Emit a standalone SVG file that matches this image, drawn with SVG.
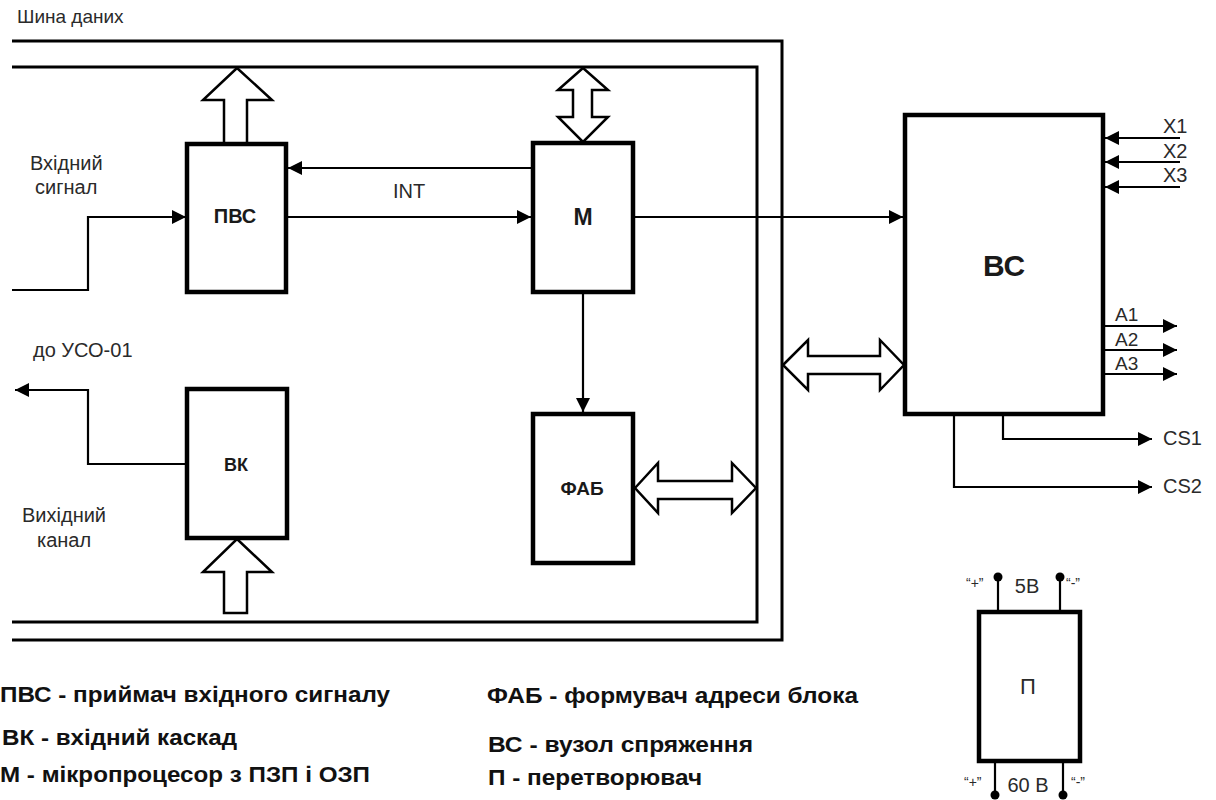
<svg xmlns="http://www.w3.org/2000/svg" width="1216" height="800" viewBox="0 0 1216 800">
<style>
.box{fill:#fff;stroke:#000;stroke-width:4.5}
.bus{fill:none;stroke:#000;stroke-width:3}
.ln{fill:none;stroke:#000;stroke-width:2.2}
.fat{fill:#fff;stroke:#000;stroke-width:2.5;stroke-linejoin:miter}
.t{font-family:"Liberation Sans",Arial,sans-serif;fill:#2a2a2a;font-size:20px}
.b{font-weight:bold;fill:#1a1a1a}
.q{font-size:14px}
.leg{font-family:"Liberation Sans",Arial,sans-serif;font-weight:bold;font-size:22px;fill:#111}
</style>
<defs>
<marker id="ah" viewBox="0 0 10 10" refX="10" refY="5" markerWidth="16" markerHeight="14" markerUnits="userSpaceOnUse" orient="auto">
<path d="M0,0 L10,5 L0,10 Z" fill="#000"/>
</marker>
</defs>
<rect width="1216" height="800" fill="#fff"/>
<g id="bus">
<polyline class="bus" points="12,41 782,41 782,640 12,640"/>
<polyline class="bus" points="12,67 757,67 757,622 12,622"/>
<text class="t" x="17" y="23" style="font-size:19px">Шина даних</text>
</g>
<g id="connectors">
<polyline class="ln" points="12,290 88,290 88,217 186,217" marker-end="url(#ah)"/>
<line class="ln" x1="532" y1="168" x2="288" y2="168" marker-end="url(#ah)"/>
<line class="ln" x1="286" y1="217" x2="531" y2="217" marker-end="url(#ah)"/>
<line class="ln" x1="633" y1="217" x2="903" y2="217" marker-end="url(#ah)"/>
<line class="ln" x1="583" y1="292" x2="583" y2="412" marker-end="url(#ah)"/>
<polyline class="ln" points="187,464 88,464 88,390 15,390" marker-end="url(#ah)"/>
<line class="ln" x1="1180" y1="138" x2="1105" y2="138" marker-end="url(#ah)"/>
<line class="ln" x1="1180" y1="162" x2="1105" y2="162" marker-end="url(#ah)"/>
<line class="ln" x1="1180" y1="187" x2="1105" y2="187" marker-end="url(#ah)"/>
<line class="ln" x1="1103" y1="326" x2="1177" y2="326" marker-end="url(#ah)"/>
<line class="ln" x1="1103" y1="350" x2="1177" y2="350" marker-end="url(#ah)"/>
<line class="ln" x1="1103" y1="374" x2="1177" y2="374" marker-end="url(#ah)"/>
<polyline class="ln" points="1003,414 1003,439 1152,439" marker-end="url(#ah)"/>
<polyline class="ln" points="954,414 954,487 1152,487" marker-end="url(#ah)"/>
<polygon class="fat" points="224,144 224,100 203,100 237,68 272,100 247,100 247,144"/>
<polygon class="fat" points="224,613 224,572 203,572 237,539 272,572 247,572 247,613"/>
<polygon class="fat" points="583,68 608,90 592,90 592,117 608,117 583,142 558,117 573,117 573,90 558,90"/>
<polygon class="fat" points="635,488 658,463 658,481 732,481 732,463 756,488 732,513 732,499 658,499 658,513"/>
<polygon class="fat" points="783,365 808,340 808,356 880,356 880,340 904,365 880,390 880,374 808,374 808,390"/>
<text class="t" x="409" y="198" text-anchor="middle">INT</text>
<text class="t" x="1163" y="133">X1</text>
<text class="t" x="1163" y="158">X2</text>
<text class="t" x="1163" y="182">X3</text>
<text class="t" x="1115" y="321" style="font-size:19px">A1</text>
<text class="t" x="1115" y="346" style="font-size:19px">A2</text>
<text class="t" x="1115" y="370" style="font-size:19px">A3</text>
<text class="t" x="1163" y="445">CS1</text>
<text class="t" x="1163" y="493">CS2</text>
<text class="t" x="30" y="170">Вхідний</text>
<text class="t" x="35" y="194">сигнал</text>
<text class="t" x="33" y="357">до УСО-01</text>
<text class="t" x="22" y="522">Вихідний</text>
<text class="t" x="37" y="547">канал</text>
</g>
<g id="pvs">
<rect class="box" x="187" y="144" width="99" height="148"/>
<text class="t b" x="235" y="223" text-anchor="middle">ПВС</text>
</g>
<g id="m">
<rect class="box" x="533" y="143" width="100" height="149"/>
<text class="t b" x="583" y="225" style="font-size:23px" text-anchor="middle">М</text>
</g>
<g id="vk">
<rect class="box" x="187" y="389" width="100" height="149"/>
<text class="t b" x="236" y="471" style="font-size:18px" text-anchor="middle">ВК</text>
</g>
<g id="fab">
<rect class="box" x="533" y="414" width="100" height="149"/>
<text class="t b" x="582" y="495" style="font-size:19px" text-anchor="middle">ФАБ</text>
</g>
<g id="vs">
<rect class="box" x="905" y="115" width="198" height="299"/>
<text class="t b" x="1004" y="276" style="font-size:30px" text-anchor="middle">ВС</text>
</g>
<g id="p">
<line class="ln" x1="998" y1="612" x2="998" y2="577" stroke-width="3"/>
<line class="ln" x1="1060" y1="612" x2="1060" y2="577" stroke-width="3"/>
<line class="ln" x1="995" y1="761" x2="995" y2="795" stroke-width="3"/>
<line class="ln" x1="1063" y1="761" x2="1063" y2="795" stroke-width="3"/>
<circle cx="998" cy="577" r="4.5" fill="#000"/>
<circle cx="1060" cy="577" r="4.5" fill="#000"/>
<circle cx="995" cy="795" r="4.5" fill="#000"/>
<circle cx="1063" cy="795" r="4.5" fill="#000"/>
<rect class="box" x="979" y="612" width="101" height="149"/>
<text class="t" x="1028" y="694" style="font-size:22px" text-anchor="middle">П</text>
<text class="t" x="1027" y="593" text-anchor="middle">5В</text>
<text class="t" x="1028" y="792" text-anchor="middle">60 В</text>
<text class="t q" x="966" y="588">“+”</text>
<text class="t q" x="1066" y="588">“-”</text>
<text class="t q" x="964" y="787">“+”</text>
<text class="t q" x="1071" y="787">“-”</text>
</g>
<g id="legend">
<text class="leg" x="0" y="702" textLength="390" lengthAdjust="spacingAndGlyphs">ПВС - приймач вхідного сигналу</text>
<text class="leg" x="2" y="745" textLength="235" lengthAdjust="spacingAndGlyphs">ВК - вхідний каскад</text>
<text class="leg" x="0" y="782" textLength="370" lengthAdjust="spacingAndGlyphs">М - мікропроцесор з ПЗП і ОЗП</text>
<text class="leg" x="487" y="703" textLength="371" lengthAdjust="spacingAndGlyphs">ФАБ - формувач адреси блока</text>
<text class="leg" x="488" y="752" textLength="265" lengthAdjust="spacingAndGlyphs">ВС - вузол спряження</text>
<text class="leg" x="488" y="785" textLength="214" lengthAdjust="spacingAndGlyphs">П - перетворювач</text>
</g>
</svg>
